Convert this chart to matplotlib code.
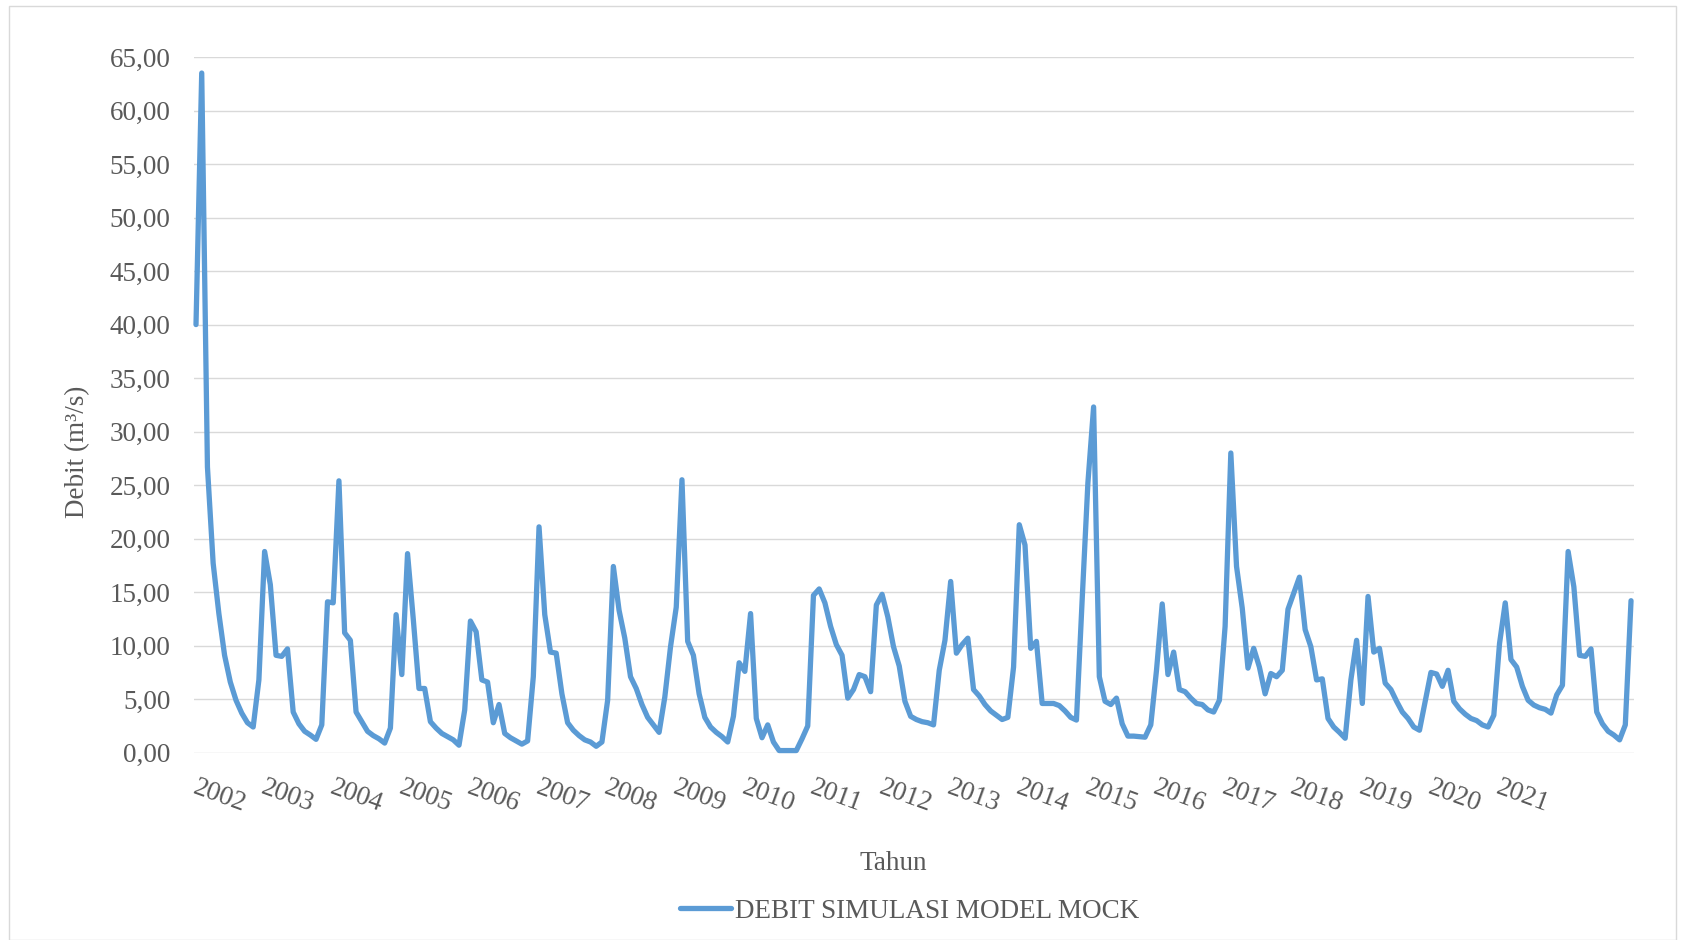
import matplotlib
matplotlib.use("Agg")
import matplotlib.pyplot as plt
from matplotlib.patches import Rectangle
from matplotlib.ticker import FuncFormatter, MultipleLocator
from matplotlib.transforms import ScaledTranslation
import numpy as np

# Monthly simulated discharge (m3/s), Mock model, one row per year
debit = [
    40.0, 63.5, 26.7, 17.7, 13.0, 9.1, 6.6, 4.9, 3.7, 2.8, 2.4, 6.8,
    18.8, 15.7, 9.1, 9.0, 9.7, 3.8, 2.7, 2.0, 1.65, 1.25, 2.6, 14.1,
    14.0, 25.4, 11.2, 10.5, 3.8, 2.9, 2.0, 1.6, 1.3, 0.9, 2.3, 12.9,
    7.3, 18.6, 12.5, 6.0, 6.0, 2.9, 2.3, 1.8, 1.5, 1.2, 0.7, 4.0,
    12.3, 11.3, 6.8, 6.6, 2.8, 4.5, 1.8, 1.4, 1.1, 0.8, 1.1, 7.1,
    21.1, 12.9, 9.4, 9.3, 5.5, 2.8, 2.1, 1.6, 1.2, 1.0, 0.6, 1.0,
    4.9, 17.4, 13.3, 10.7, 7.1, 6.0, 4.5, 3.3, 2.6, 1.9, 5.2, 9.9,
    13.6, 25.5, 10.4, 9.1, 5.5, 3.3, 2.4, 1.9, 1.5, 1.0, 3.4, 8.4,
    7.6, 13.0, 3.2, 1.4, 2.6, 1.0, 0.2, 0.2, 0.2, 0.2, 1.3, 2.5,
    14.7, 15.3, 14.0, 11.8, 10.1, 9.1, 5.1, 5.9, 7.3, 7.1, 5.7, 13.8,
    14.8, 12.7, 9.9, 8.1, 4.8, 3.4, 3.1, 2.9, 2.8, 2.6, 7.7, 10.5,
    16.0, 9.3, 10.1, 10.7, 5.9, 5.3, 4.5, 3.9, 3.5, 3.1, 3.3, 8.0,
    21.3, 19.4, 9.75, 10.4, 4.6, 4.6, 4.6, 4.4, 3.9, 3.3, 3.05, 14.3,
    25.2, 32.3, 7.1, 4.8, 4.5, 5.1, 2.7, 1.55, 1.55, 1.5, 1.45, 2.6,
    7.7, 13.9, 7.3, 9.4, 5.9, 5.7, 5.1, 4.6, 4.5, 4.0, 3.8, 4.9,
    11.8, 28.0, 17.4, 13.5, 7.9, 9.75, 8.0, 5.5, 7.4, 7.1, 7.7, 13.4,
    14.9, 16.4, 11.5, 9.9, 6.8, 6.9, 3.2, 2.4, 1.9, 1.35, 6.8, 10.5,
    4.6, 14.6, 9.4, 9.75, 6.5, 5.9, 4.8, 3.8, 3.2, 2.4, 2.1, 4.8,
    7.5, 7.35, 6.2, 7.7, 4.8, 4.1, 3.6, 3.2, 3.0, 2.6, 2.4, 3.5,
    10.2, 14.0, 8.7, 8.0, 6.2, 4.9, 4.45, 4.2, 4.05, 3.7, 5.4, 6.3,
    18.8, 15.5, 9.1, 9.0, 9.7, 3.8, 2.7, 2.0, 1.65, 1.2, 2.6, 14.2,
]
tahun = [str(y) for y in range(2002, 2022)]
series_name = "DEBIT SIMULASI MODEL MOCK"

LINE_COLOR = "#5B9BD5"
TEXT_COLOR = "#595959"
GRID_COLOR = "#D9D9D9"
FS = 19.5

plt.rcParams["font.family"] = ["Liberation Serif", "DejaVu Serif"]
plt.rcParams["font.size"] = FS

W, H = 1686, 940
fig = plt.figure(figsize=(W / 100, H / 100), dpi=100)

# outer chart border
fig.patches.append(Rectangle((9 / W, 0), (1676 - 9) / W, 1 - 6 / H,
                             transform=fig.transFigure, fill=False,
                             edgecolor=GRID_COLOR, linewidth=1.0))

ax = fig.add_axes([194 / W, 1 - 752.7 / H, (1634 - 194) / W, (752.7 - 57) / H])

x = np.arange(len(debit))
ax.plot(x, debit, color=LINE_COLOR, linewidth=3.8,
        solid_joinstyle="round", solid_capstyle="round", label=series_name,
        clip_on=False, zorder=3)

ax.set_ylim(0, 65)
ax.set_xlim(-0.35, len(debit) - 1 + 0.52)
ax.yaxis.set_major_locator(MultipleLocator(5))
ax.yaxis.set_major_formatter(FuncFormatter(lambda v, p: f"{v:.2f}".replace(".", ",")))
ax.grid(axis="y", color=GRID_COLOR, linewidth=1.0)
ax.set_axisbelow(True)
for s in ax.spines.values():
    s.set_visible(False)

ax.tick_params(axis="y", length=0, pad=17, labelcolor=TEXT_COLOR, labelsize=FS)
ax.set_xticks([])

# year labels, one per 12 months, slanted downward
lbl_tr = ax.get_xaxis_transform() + ScaledTranslation(2 / 100, -22 / 100, fig.dpi_scale_trans)
for i, yr in enumerate(tahun):
    ax.text(i * 12, 0, yr, transform=lbl_tr, rotation=-20, rotation_mode="anchor",
            ha="left", va="top", color=TEXT_COLOR, fontsize=FS)

fig.text(78 / W, 1 - 452 / H, "Debit (m³/s)", rotation=90, ha="center",
         va="center", color=TEXT_COLOR, fontsize=FS)
fig.text(893.6 / W, 1 - 863.5 / H, "Tahun", ha="center", va="center",
         color=TEXT_COLOR, fontsize=FS)

leg = fig.legend(loc="center", bbox_to_anchor=(909.5 / W, 1 - 911 / H),
                 frameon=False, handlelength=1.9, handletextpad=0.12,
                 fontsize=FS, borderpad=0)
for t in leg.get_texts():
    t.set_color(TEXT_COLOR)

fig.savefig("out.png", dpi=100, facecolor="white")
